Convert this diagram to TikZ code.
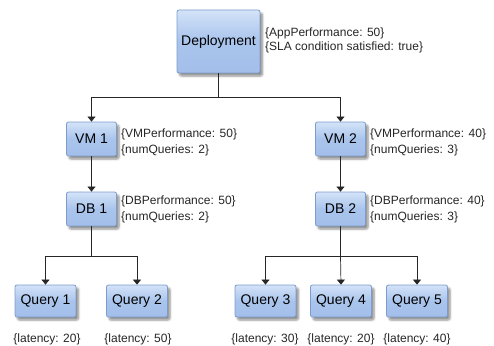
\documentclass[tikz,border=0pt]{standalone}
\usepackage{fontspec}
\setmainfont{Liberation Sans}
\usetikzlibrary{arrows.meta,shadows.blur}
\definecolor{boxtop}{HTML}{D3E3F8}
\definecolor{boxmid}{HTML}{A9C4EC}
\definecolor{boxbot}{HTML}{A3BFEA}
\definecolor{boxedge}{HTML}{7D9CCB}
\tikzset{
  box/.style={draw=boxedge, line width=0.8pt, rounded corners=2pt,
    top color=boxtop, bottom color=boxbot, middle color=boxmid,
    blur shadow={shadow xshift=2.5pt, shadow yshift=-3pt, shadow blur steps=6, shadow opacity=45},
    inner sep=0pt, font=\fontsize{14}{16}\selectfont, text=black},
  bigbox/.style={box, minimum width=83pt, minimum height=63pt},
  vmbox/.style={box, minimum width=50pt, minimum height=34pt},
  qbox/.style={box, minimum width=61pt, minimum height=32pt},
  info/.style={anchor=west, inner sep=0pt, font=\fontsize{12}{14}\selectfont, text=black!85},
  qinfo/.style={anchor=center, inner sep=0pt, font=\fontsize{12}{14}\selectfont, text=black!85},
  link/.style={draw=black!85, line width=0.7pt},
  arr/.style={link, -{Triangle[width=8pt,length=5pt]}}
}
\begin{document}
\begin{tikzpicture}[x=1pt, y=-1pt]
  \useasboundingbox (0,0) rectangle (494,345);

  % top level
  \node[bigbox] (dep) at (218.5,41.5) {Deployment};
  \node[info] (depa) at (265,33) {\{AppPerformance: 50\}};
  \node[info] (depb) at (265,47) {\{SLA condition satisfied: true\}};

  % virtual machines
  \node[vmbox] (vm1) at (91.5,139) {VM 1};
  \node[info] (vm1a) at (121,134) {\{VMPerformance: 50\}};
  \node[info] (vm1b) at (121,150) {\{numQueries: 2\}};
  \node[vmbox] (vm2) at (340.5,139) {VM 2};
  \node[info] (vm2a) at (370,134) {\{VMPerformance: 40\}};
  \node[info] (vm2b) at (370,150) {\{numQueries: 3\}};

  % databases
  \node[vmbox] (db1) at (91.5,209) {DB 1};
  \node[info] (db1a) at (121,201) {\{DBPerformance: 50\}};
  \node[info] (db1b) at (121,217) {\{numQueries: 2\}};
  \node[vmbox] (db2) at (340.5,209) {DB 2};
  \node[info] (db2a) at (370,201) {\{DBPerformance: 40\}};
  \node[info] (db2b) at (370,217) {\{numQueries: 3\}};

  % queries
  \node[qbox] (q1) at (45.5,301) {Query 1};
  \node[qbox] (q2) at (137,301) {Query 2};
  \node[qbox] (q3) at (265.5,301) {Query 3};
  \node[qbox] (q4) at (341,301) {Query 4};
  \node[qbox] (q5) at (417,301) {Query 5};
  \node[qinfo] (q1l) at (47,339.5) {\{latency: 20\}};
  \node[qinfo] (q2l) at (138,339.5) {\{latency: 50\}};
  \node[qinfo] (q3l) at (265,339.5) {\{latency: 30\}};
  \node[qinfo] (q4l) at (341,339.5) {\{latency: 20\}};
  \node[qinfo] (q5l) at (417,339.5) {\{latency: 40\}};

  % branch points
  \coordinate (jd) at (218.5,97);
  \coordinate (j1) at (91.5,256);
  \coordinate (j2) at (340.5,256);

  % connectors
  \draw[link] (dep.south) -- (jd);
  \draw[arr] (jd) -| (vm1.north);
  \draw[arr] (jd) -| (vm2.north);
  \draw[arr] (vm1) -- (db1);
  \draw[arr] (vm2) -- (db2);
  \draw[link] (db1.south) -- (j1);
  \draw[link] (db2.south) -- (j2);
  \draw[arr] (j1) -| (q1.north);
  \draw[arr] (j1) -| (q2.north);
  \draw[arr] (j2) -| (q3.north);
  \draw[arr] (j2) -- (q4.north);
  \draw[arr] (j2) -| (q5.north);
\end{tikzpicture}
\end{document}
